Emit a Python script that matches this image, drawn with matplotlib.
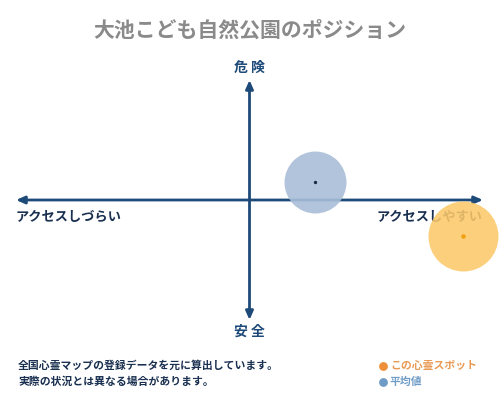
import matplotlib.pyplot as plt

plt.rcParams['font.family'] = ['Noto Sans CJK JP', 'DejaVu Sans']

title = "大池こども自然公園のポジション"
y_labels = ["危 険", "安 全"]
x_labels = ["アクセスしづらい", "アクセスしやすい"]

# position of the spot and the average (x: access, y: danger)
spot_x, spot_y = 0.914, -0.30
avg_x, avg_y = 0.28, 0.15

notes = ["全国心霊マップの登録データを元に算出しています。",
         "実際の状況とは異なる場合があります。"]
legend_labels = ["この心霊スポット", "平均値"]

navy = "#1d4a78"

fig = plt.figure(figsize=(5, 4), dpi=100)
fig.patch.set_facecolor("white")

ax = fig.add_axes([0.032, 0.2, 0.934, 0.6])
ax.set_xlim(-1, 1)
ax.set_ylim(-1, 1)
ax.axis("off")

arrow = dict(arrowstyle="-|>,head_length=0.5,head_width=0.22", color=navy, lw=2,
             shrinkA=0, shrinkB=0)
ax.annotate("", xy=(1, 0), xytext=(0, 0), arrowprops=arrow)
ax.annotate("", xy=(-1, 0), xytext=(0, 0), arrowprops=arrow)
ax.annotate("", xy=(0, 1), xytext=(0, 0), arrowprops=arrow)
ax.annotate("", xy=(0, -1), xytext=(0, 0), arrowprops=arrow)

ax.text(0, 1.04, y_labels[0], ha="center", va="bottom", fontsize=10,
        color=navy, fontweight="bold")
ax.text(0, -1.04, y_labels[1], ha="center", va="top", fontsize=10,
        color=navy, fontweight="bold")
ax.text(-1, -0.08, x_labels[0], ha="left", va="top", fontsize=9.5,
        color="#1a3050", fontweight="bold")
ax.text(1, -0.08, x_labels[1], ha="right", va="top", fontsize=9.5,
        color="#1a3050", fontweight="bold", zorder=2)

ax.scatter([avg_x], [avg_y], s=1990, color="#a9bed8", alpha=0.9, zorder=3,
           lw=0, clip_on=False)
ax.scatter([avg_x], [avg_y], s=2, color="#1a2a40", zorder=4, clip_on=False)
ax.scatter([spot_x], [spot_y], s=2540, color="#fbc96a", alpha=0.88, zorder=5,
           lw=0, clip_on=False)
ax.scatter([spot_x], [spot_y], s=5, color="#f0a010", zorder=6, clip_on=False)

fig.text(0.5, 0.925, title, ha="center", va="center", fontsize=15,
         color="#8a8a8a", fontweight="bold")

fig.text(0.036, 0.085, notes[0], ha="left", va="center", fontsize=7.8,
         color="#1a3050", fontweight="bold")
fig.text(0.036, 0.045, notes[1], ha="left", va="center", fontsize=7.8,
         color="#1a3050", fontweight="bold")

# legend drawn on a full-figure overlay axes
leg = fig.add_axes([0, 0, 1, 1], facecolor="none")
leg.set_xlim(0, 1)
leg.set_ylim(0, 1)
leg.axis("off")
leg.scatter([0.766], [0.085], s=40, color="#ee8f3a", lw=0)
leg.scatter([0.766], [0.045], s=40, color="#6f9cc6", lw=0)
leg.text(0.780, 0.085, legend_labels[0], ha="left", va="center", fontsize=7.8,
         color="#e99a55", fontweight="bold")
leg.text(0.780, 0.045, legend_labels[1], ha="left", va="center", fontsize=7.8,
         color="#6f9cc6", fontweight="bold")

fig.savefig("out.png", dpi=100, facecolor="white")
